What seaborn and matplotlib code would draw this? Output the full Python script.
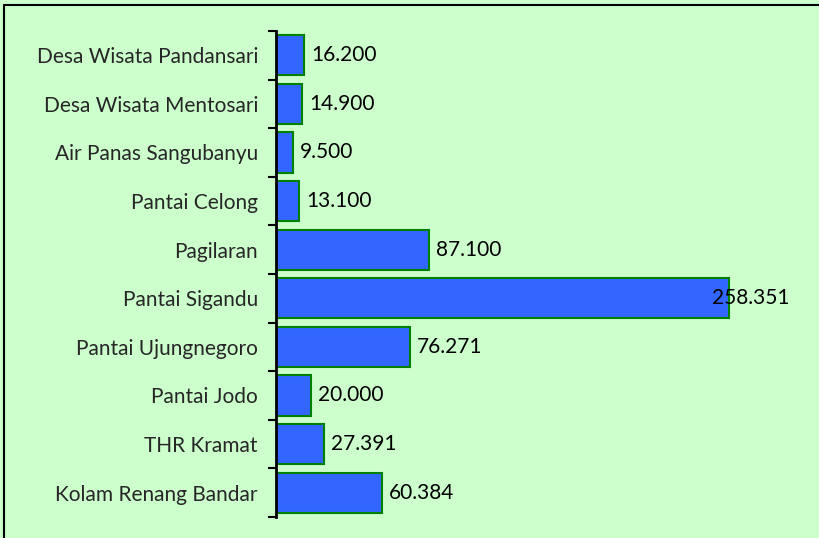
import numpy as np
import pandas as pd
import matplotlib
matplotlib.use('Agg')
import matplotlib.pyplot as plt
import seaborn as sns

# data
places = ['Desa Wisata Pandansari', 'Desa Wisata Mentosari', 'Air Panas Sangubanyu',
          'Pantai Celong', 'Pagilaran', 'Pantai Sigandu', 'Pantai Ujungnegoro',
          'Pantai Jodo', 'THR Kramat', 'Kolam Renang Bandar']
visitors = [16200, 14900, 9500, 13100, 87100, 258351, 76271, 20000, 27391, 60384]
value_labels = ['16.200', '14.900', '9.500', '13.100', '87.100',
                '258.351', '76.271', '20.000', '27.391', '60.384']

df = pd.DataFrame({'place': places, 'visitors': visitors})

sns.set_style('white')
plt.rcParams['font.family'] = ['Lato', 'DejaVu Sans']

bg = '#CCFFCC'
fig = plt.figure(figsize=(8.2, 5.38), dpi=100, facecolor=bg)
ax = fig.add_axes([276 / 820, 21 / 538, 514 / 820, 486 / 538])
ax.set_facecolor(bg)

sns.barplot(data=df, x='visitors', y='place', order=places, orient='h',
            color='#3366FF', saturation=1, width=0.83,
            edgecolor='#008000', linewidth=1.5, ax=ax)

xmax = 258351 * 514 / 453
ax.set_xlim(0, xmax)
ax.set_ylim(len(places) - 0.5, -0.5)

# excel style: ticks between categories, labels centred
ax.set_yticks(np.arange(-0.5, len(places) + 0.5, 1))
ax.set_yticklabels([])
ax.set_yticks(np.arange(len(places)), minor=True)
ax.set_yticklabels(places, minor=True, fontsize=15)
ax.tick_params(axis='y', which='major', length=6, width=1.5, color='black', direction='out', left=True)
ax.tick_params(axis='y', which='minor', length=0, pad=13)
ax.set_xticks([])
ax.set_xlabel('')
ax.set_ylabel('')

for s in ['top', 'right', 'bottom']:
    ax.spines[s].set_visible(False)
ax.spines['left'].set_color('black')
ax.spines['left'].set_linewidth(2)

fig.canvas.draw()
renderer = fig.canvas.get_renderer()
ax_right = ax.get_window_extent(renderer).x1
for i, (v, lab) in enumerate(zip(visitors, value_labels)):
    t = ax.annotate(lab, (v, i), xytext=(5, 0), textcoords='offset points',
                    ha='left', va='center', fontsize=15, color='black')
    bb = t.get_window_extent(renderer)
    if bb.x1 > ax_right:
        t.set_position((5 - (bb.x1 - ax_right) * 72 / fig.dpi, 0))

# frame of the original chart area (only top and left edges visible)
fig.add_artist(plt.Line2D([4 / 820, 4 / 820], [0, 1 - 5 / 538], color='black', lw=1.5,
                          transform=fig.transFigure))
fig.add_artist(plt.Line2D([4 / 820, 1], [1 - 5 / 538, 1 - 5 / 538], color='black', lw=1.5,
                          transform=fig.transFigure))

plt.savefig('out.png', dpi=100, facecolor=bg)
